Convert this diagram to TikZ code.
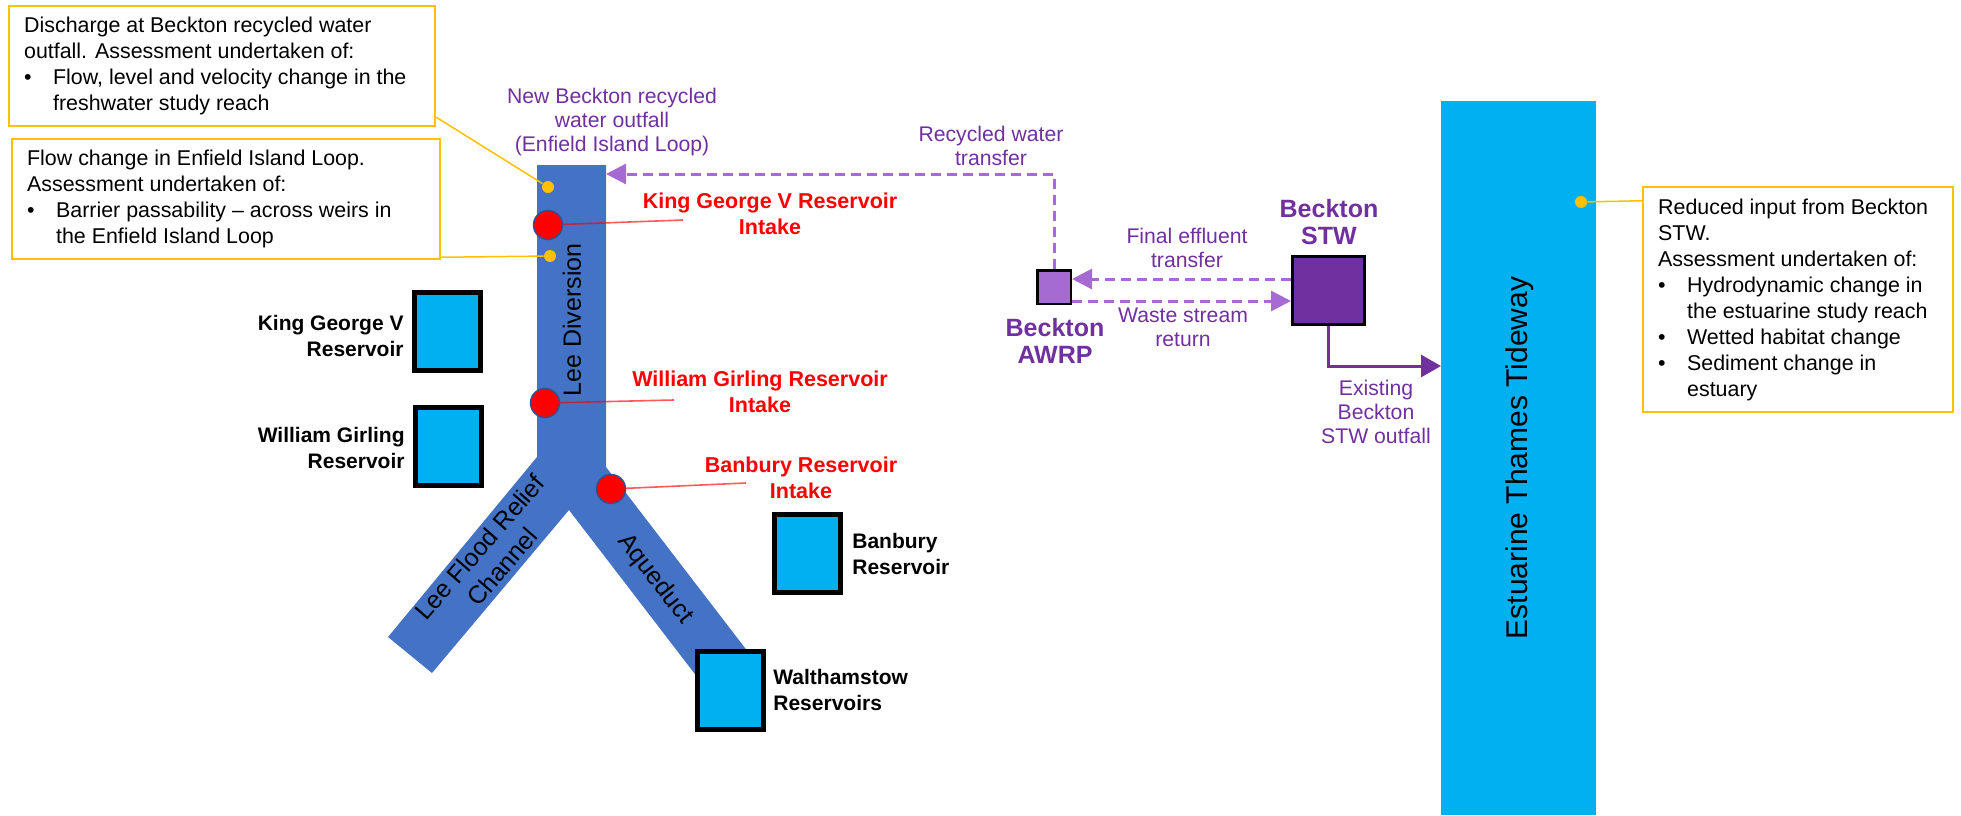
\documentclass[tikz,border=0pt]{standalone}
\usepackage{fontspec}
\setmainfont{Liberation Sans}
\usetikzlibrary{arrows.meta,calc}
\definecolor{river}{HTML}{4472C4}
\definecolor{water}{HTML}{00B0F0}
\definecolor{amber}{HTML}{FFC000}
\definecolor{purp}{HTML}{7030A0}
\definecolor{lpurp}{HTML}{A66BD3}
\definecolor{ringblue}{HTML}{2F528F}
\newcommand\fbody{\fontsize{10.7pt}{13pt}\selectfont}
\newcommand\fpur{\fontsize{10.6pt}{12pt}\selectfont}
\newcommand\fred{\bfseries\fontsize{10.75pt}{13pt}\selectfont}
\newcommand\fres{\bfseries\fontsize{10.5pt}{13pt}\selectfont}
\newcommand\fbig{\bfseries\fontsize{12.5pt}{13.5pt}\selectfont}
\newcommand\friver{\fontsize{12.5pt}{15pt}\selectfont}
\newcommand\fthames{\fontsize{15pt}{18pt}\selectfont}
\newcommand\bl{\makebox[14.5pt][l]{•}}
\newcommand\ind{\hspace*{14.5pt}}
\begin{document}
\begin{tikzpicture}[x=0.5pt,y=-0.5pt,
  notebox/.style={draw=amber,line width=1.25pt,fill=white,inner sep=0pt},
  notetext/.style={anchor=west,align=left,inner sep=0pt,font=\fbody},
  resv/.style={draw=black,line width=2.5pt,fill=water,minimum width=33pt,minimum height=39pt,inner sep=0pt},
  resvlabel/.style={font=\fres,inner sep=0pt},
  intake/.style={circle,fill=red,draw=ringblue,line width=0.7pt,minimum size=14.5pt,inner sep=0pt},
  intakelabel/.style={font=\fred,text=red,align=center,inner sep=0pt},
  intakeline/.style={draw=red,draw opacity=0.65,line width=0.8pt},
  spot/.style={circle,fill=amber,minimum size=6pt,inner sep=0pt},
  callout/.style={draw=amber,line width=0.75pt},
  plabel/.style={font=\fpur,text=purp,align=center,inner sep=0pt},
  pbig/.style={font=\fbig,text=purp,align=center,inner sep=0pt},
  dasharrow/.style={draw=lpurp,line width=1.5pt,dash pattern=on 5pt off 3pt,-{Triangle[length=10pt,width=10pt]}},
  solidarrow/.style={draw=purp,line width=1.5pt,-{Triangle[length=10pt,width=11pt]}},
  rivertext/.style={font=\friver,align=center,inner sep=0pt}
]
\useasboundingbox (0,0) rectangle (1961,815);

% Thames
\node[fill=water,minimum width=77.5pt,minimum height=357pt,inner sep=0pt] (thames) at (1518.5,458) {};
\node[rotate=90,font=\fthames,inner sep=0pt] (thameslbl) at (1520,458) {Estuarine Thames Tideway};

% river system
\fill[river] (537,165) -- (606,165) -- (606,467) -- (755,661) -- (711,695) -- (569,510) -- (432,673) -- (388,637) -- (537,457) -- cycle;
\node[rivertext,rotate=90] (leediv) at (572,320) {Lee Diversion};
\node[rivertext,rotate=49] (lfrc) at (491,557) {Lee Flood Relief\\Channel};
\node[rivertext,rotate=-52] (aqu) at (655,579) {Aqueduct};

% reservoirs
\node[resv] (kgv) at (447,331.5) {};
\node[resv] (wg) at (448,446) {};
\node[resv] (ban) at (807.5,553) {};
\node[resv] (wal) at (730.5,690.5) {};
\node[resvlabel,align=right,anchor=east] (kgvlbl) at (404,336) {King George V\\Reservoir};
\node[resvlabel,align=right,anchor=east] (wglbl) at (405,448) {William Girling\\Reservoir};
\node[resvlabel,align=left,anchor=west] (banlbl) at (852,554) {Banbury\\Reservoir};
\node[resvlabel,align=left,anchor=west] (walbl) at (773,690) {Walthamstow\\Reservoirs};

% intakes
\node[intake] (kgvin) at (548,225) {};
\node[intake] (wgin) at (545,403) {};
\node[intake] (banin) at (611,489) {};
\coordinate (kgvend) at (683,220);
\coordinate (wgend) at (674,400);
\coordinate (banend) at (746,483);
\draw[intakeline] (kgvin) -- (kgvend);
\draw[intakeline] (wgin) -- (wgend);
\draw[intakeline] (banin) -- (banend);
\node[intakelabel] (kgvlab) at (770,214) {King George V Reservoir\\Intake};
\node[intakelabel] (wglab) at (760,392) {William Girling Reservoir\\Intake};
\node[intakelabel] (banlab) at (801,478) {Banbury Reservoir\\Intake};

% note boxes
\node[notebox,minimum width=213pt,minimum height=60pt] (box1) at (222,66) {};
\node[notetext] (t1) at ($(box1.west)+(16,0)$) {Discharge at Beckton recycled water\\outfall. Assessment undertaken of:\\\bl Flow, level and velocity change in the\\\ind freshwater study reach};
\node[notebox,minimum width=214pt,minimum height=60pt] (box2) at (226,199) {};
\node[notetext] (t2) at ($(box2.west)+(16,0)$) {Flow change in Enfield Island Loop.\\Assessment undertaken of:\\\bl Barrier passability – across weirs in\\\ind the Enfield Island Loop};
\node[notebox,minimum width=155pt,minimum height=112.5pt] (box3) at (1798,299.5) {};
\node[notetext] (t3) at ($(box3.west)+(16,0)$) {Reduced input from Beckton\\STW.\\Assessment undertaken of:\\\bl Hydrodynamic change in\\\ind the estuarine study reach\\\bl Wetted habitat change\\\bl Sediment change in\\\ind estuary};

% callout spots
\node[spot] (d1) at (548,187) {};
\node[spot] (d2) at (550,256) {};
\node[spot] (d3) at (1581,202) {};
\coordinate (b1c) at ($(box1.south east)+(0,-10)$);
\coordinate (b2c) at ($(box2.south east)+(0,-3)$);
\coordinate (b3c) at ($(box3.north west)+(0,15)$);
\draw[callout] (b1c) -- (d1);
\draw[callout] (b2c) -- (d2);
\draw[callout] (b3c) -- (d3);

% Beckton
\node[plabel] (outfalllbl) at (612,122) {New Beckton recycled\\water outfall\\(Enfield Island Loop)};
\node[draw=black,line width=1.25pt,fill=lpurp,minimum size=16.75pt,inner sep=0pt] (awrp) at (1054,287) {};
\node[draw=black,line width=1.5pt,fill=purp,minimum width=36pt,minimum height=34pt,inner sep=0pt] (stw) at (1328.5,290.5) {};
\node[pbig] (awrplbl) at (1055,341) {Beckton\\AWRP};
\node[pbig] (stwlbl) at (1329,222) {Beckton\\STW};
\node[plabel] (rwt) at (991,146) {Recycled water\\transfer};
\node[plabel] (fet) at (1187,248) {Final effluent\\transfer};
\node[plabel] (wsr) at (1183,327) {Waste stream\\return};
\node[plabel] (eso) at (1376,412) {Existing\\Beckton\\STW outfall};

\coordinate (outfall) at (606,174);
\draw[dasharrow] (awrp.north) |- (outfall);
\coordinate (fe1) at ($(stw.west)+(0,-11.5)$);
\draw[dasharrow] (fe1) -- (fe1 -| awrp.east);
\coordinate (ws1) at ($(awrp.east)+(0,14)$);
\draw[dasharrow] (ws1) -- (ws1 -| stw.west);
\coordinate (tw) at (1441,366);
\draw[solidarrow] (stw.south) |- (tw);
\end{tikzpicture}
\end{document}
